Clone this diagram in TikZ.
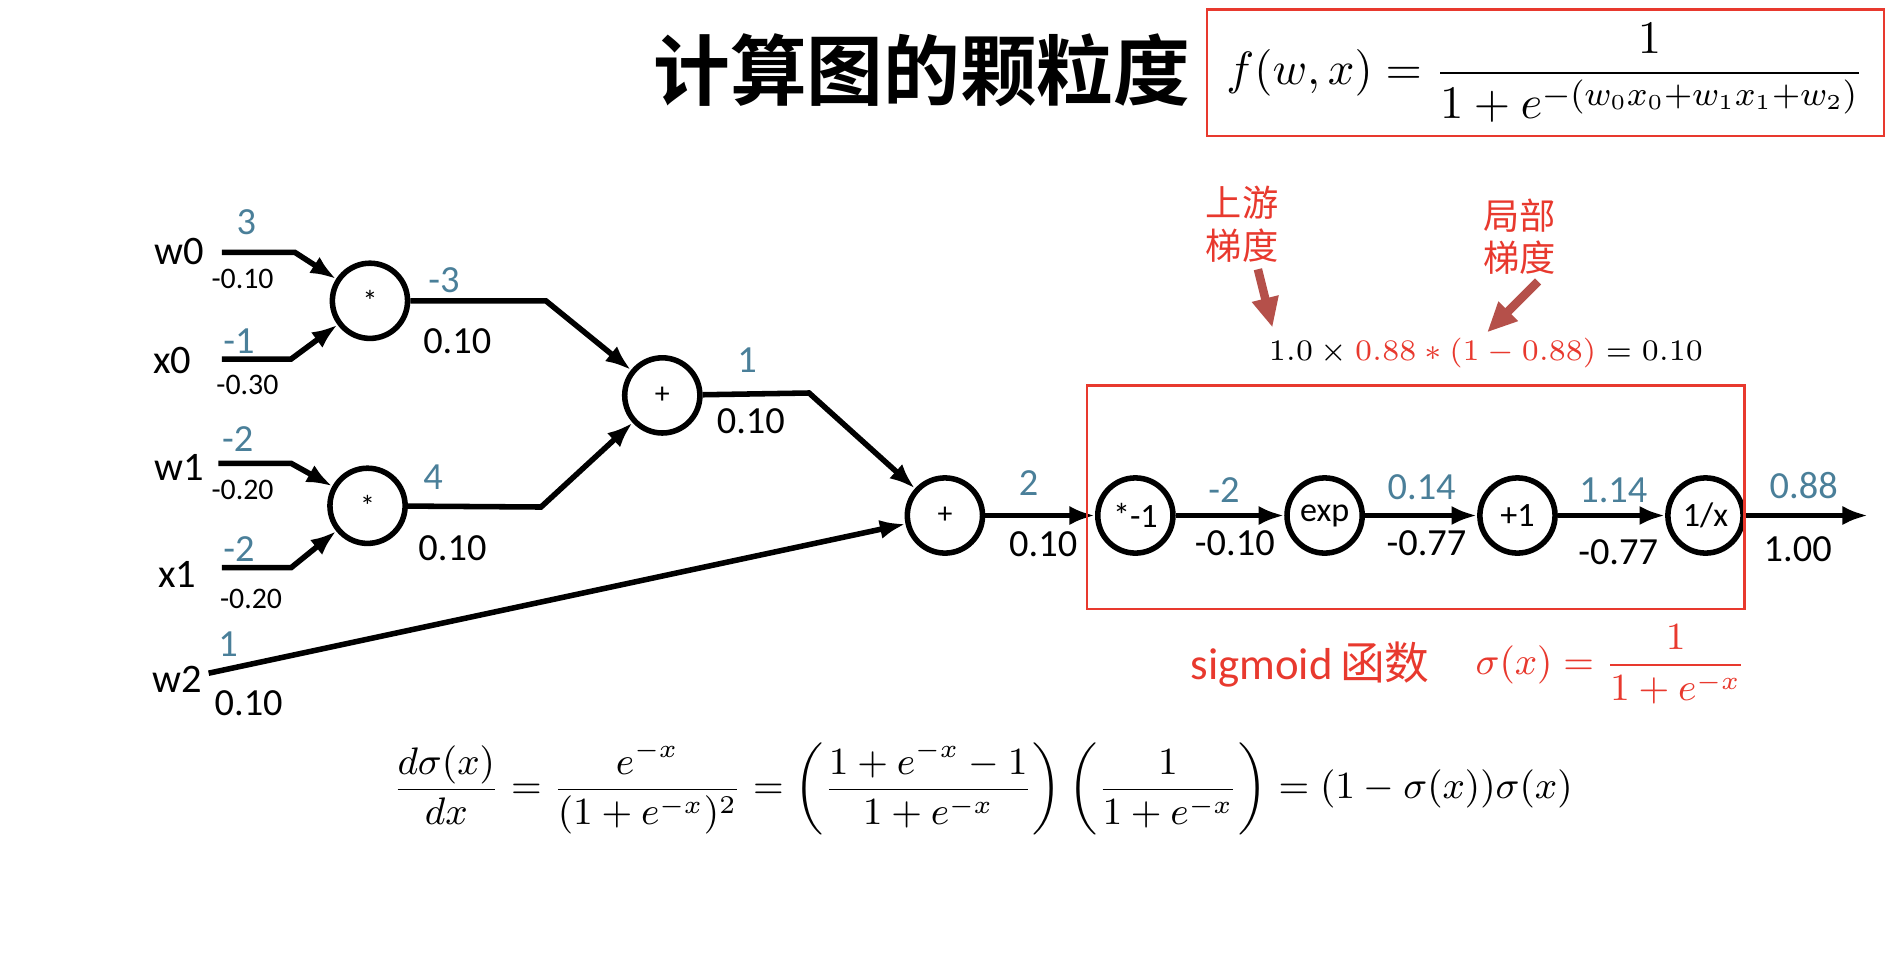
\documentclass[tikz,border=0pt]{standalone}
\usepackage{amsmath}
\usepackage{fontspec}
\setmainfont{Carlito}
\newfontfamily\cjk{Noto Sans CJK SC}
\newfontfamily\cjkb{Noto Sans CJK SC Bold}
\usetikzlibrary{arrows.meta}
\definecolor{blu}{HTML}{4A7F99}
\definecolor{rd}{HTML}{E8392E}
\definecolor{br}{HTML}{B5504A}
\tikzset{
 op/.style={circle,draw,line width=1.3pt,minimum size=62\unit,inner sep=0pt,font=\fontsize{7}{8}\selectfont},
 wire/.style={line width=1.3pt},
 arr/.style={wire,-{Latex[length=6pt,width=4.5pt]}},
 gv/.style={text=blu,font=\fontsize{9}{10}\selectfont},
 bv/.style={font=\fontsize{9}{10}\selectfont},
 sv/.style={font=\fontsize{7}{8}\selectfont},
 inp/.style={font=\fontsize{9.5}{11}\selectfont},
 ann/.style={br,line width=2pt,-{Triangle[length=7pt,width=6pt]}},
}
\newcommand{\unit}{pt*0.2845}
\begin{document}
\begin{tikzpicture}[x=0.1mm,y=-0.1mm]
\useasboundingbox (0,0) rectangle (1568,803);
% title
\node (title) at (760,58) {\cjkb\fontsize{18}{20}\selectfont 计算图的颗粒度};
\draw[rd,line width=0.6pt] (995,8) rectangle (1553,112);
\node (f) at (1274,60) {\fontsize{11}{13}\selectfont $\displaystyle f(w,x)=\frac{1}{1+e^{-(w_0x_0+w_1x_1+w_2)}}$};
% nodes
\node[op] (m1) at (305,248) {*};
\node[op] (m2) at (303,417) {*};
\node[op] (a1) at (546,326) {+};
\node[op] (a2) at (779,425) {+};
\node[op,font=\fontsize{8}{9}\selectfont] (ng) at (936,425) {*-1};
\node[op,font=\fontsize{8}{9}\selectfont] (ex) at (1092,425) {exp};
\node[op,font=\fontsize{8}{9}\selectfont] (p1) at (1251,425) {+1};
\node[op,font=\fontsize{8}{9}\selectfont] (iv) at (1406,425) {1/x};
% inputs
\node[inp] (w0) at (148,207) {w0};
\node[inp] (x0) at (142,297) {x0};
\node[inp] (w1) at (148,385) {w1};
\node[inp] (x1) at (146,474) {x1};
\node[inp] (w2) at (146,560) {w2};
\coordinate (w0a) at (183,208); \coordinate (w0b) at (243,208);
\coordinate (x0a) at (183,296); \coordinate (x0b) at (240,296);
\coordinate (w1a) at (180,382); \coordinate (w1b) at (240,382);
\coordinate (x1a) at (183,468); \coordinate (x1b) at (240,468);
\coordinate (w2a) at (172,555);
\draw[arr] (w0a) -- (w0b) -- (m1);
\draw[arr] (x0a) -- (x0b) -- (m1);
\draw[arr] (w1a) -- (w1b) -- (m2);
\draw[arr] (x1a) -- (x1b) -- (m2);
\draw[arr] (w2a) -- (a2);
\coordinate (m1b) at (450,248); \coordinate (m2b) at (446,418); \coordinate (a1b) at (667,324);
\draw[arr] (m1) -- (m1b) -- (a1);
\draw[arr] (m2) -- (m2b) -- (a1);
\draw[arr] (a1) -- (a1b) -- (a2);
\draw[arr] (a2) -- (ng);
\draw[arr] (ng) -- (ex);
\draw[arr] (ex) -- (p1);
\draw[arr] (p1) -- (iv);
\coordinate (out) at (1540,425);
\draw[arr] (iv) -- (out);
% labels
\node[gv] (l1) at (203,183) {3}; \node[sv] (l2) at (200,230) {-0.10};
\node[gv] (l3) at (197,281) {-1}; \node[sv] (l4) at (204,317) {-0.30};
\node[gv] (l5) at (196,362) {-2}; \node[sv] (l6) at (200,404) {-0.20};
\node[gv] (l7) at (197,453) {-2}; \node[sv] (l8) at (207,494) {-0.20};
\node[gv] (l9) at (188,531) {1}; \node[bv] (l10) at (205,580) {0.10};
\node[gv] (l11) at (366,231) {-3}; \node[bv] (l12) at (377,281) {0.10};
\node[gv] (l13) at (357,393) {4}; \node[bv] (l14) at (373,452) {0.10};
\node[gv] (l15) at (616,297) {1}; \node[bv] (l16) at (619,347) {0.10};
\node[gv] (l17) at (848,398) {2}; \node[bv] (l18) at (860,449) {0.10};
\node[gv] (l19) at (1009,404) {-2}; \node[bv] (l20) at (1018,448) {-0.10};
\node[gv] (l21) at (1172,402) {0.14}; \node[bv] (l22) at (1176,448) {-0.77};
\node[gv] (l23) at (1330,404) {1.14}; \node[bv] (l24) at (1334,455) {-0.77};
\node[gv] (l25) at (1487,400) {0.88}; \node[bv] (l26) at (1482,453) {1.00};
% sigmoid box
\draw[rd,line width=0.6pt] (896,318) rectangle (1438,502);
\node[rd,align=center,font=\cjk\fontsize{8.5}{10}\selectfont] (up) at (1024,185) {上游\\梯度};
\node[rd,align=center,font=\cjk\fontsize{8.5}{10}\selectfont] (lo) at (1253,195) {局部\\梯度};
\coordinate (ups) at (1037,222); \coordinate (upt) at (1049,270);
\coordinate (los) at (1268,232); \coordinate (lot) at (1226,274);
\draw[ann] (ups) -- (upt);
\draw[ann] (los) -- (lot);
\node (eq) at (1225,291) {\fontsize{7}{8}\selectfont $1.0\times\color{rd}0.88*(1-0.88)\color{black}=0.10$};
\node[rd] (sg) at (1080,548) {\fontsize{10.5}{12}\selectfont sigmoid\,{\cjk 函数}};
\node[rd] (sgf) at (1328,548) {\fontsize{9}{10}\selectfont $\displaystyle\sigma(x)=\frac{1}{1+e^{-x}}$};
\node (deq) at (810,650) {\fontsize{9}{10}\selectfont $\displaystyle\frac{d\sigma(x)}{dx}=\frac{e^{-x}}{(1+e^{-x})^2}=\left(\frac{1+e^{-x}-1}{1+e^{-x}}\right)\left(\frac{1}{1+e^{-x}}\right)=(1-\sigma(x))\sigma(x)$};
\end{tikzpicture}
\end{document}
